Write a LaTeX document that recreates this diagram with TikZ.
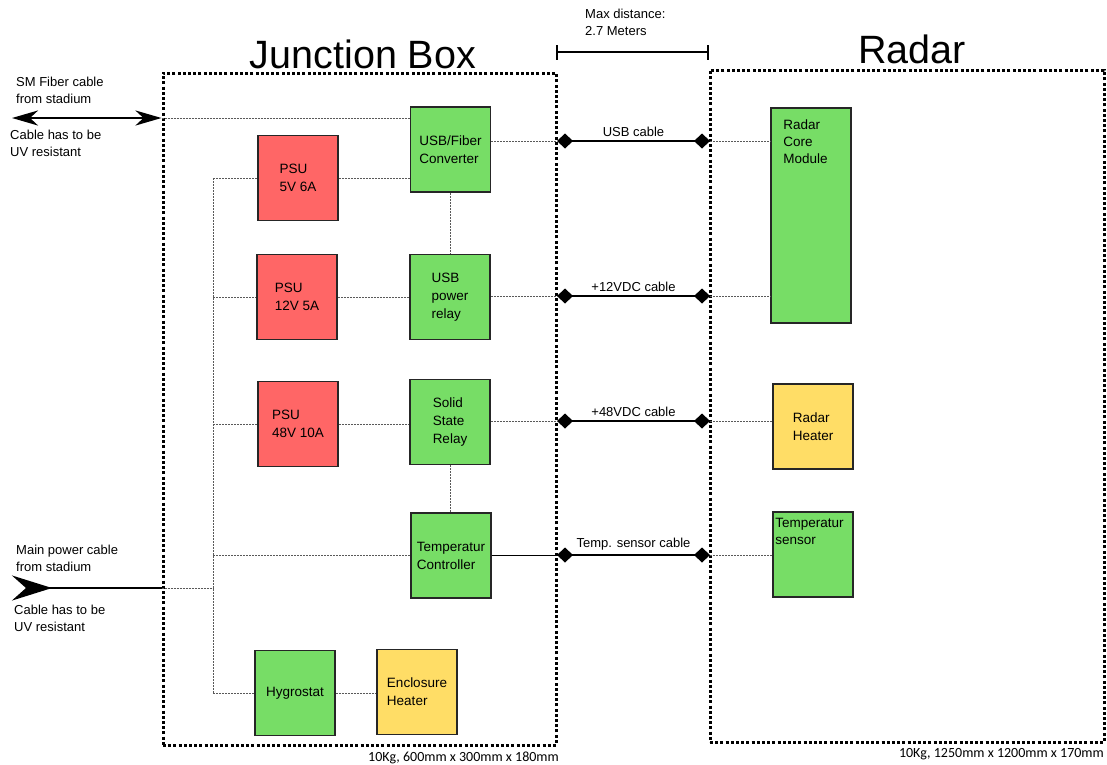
\documentclass[tikz,border=0pt]{standalone}
\usepackage{fontspec}
\setmainfont{Liberation Sans}
\newfontfamily\notefont{Carlito}
\usepackage{xcolor}
\usetikzlibrary{arrows.meta}
\definecolor{psured}{HTML}{FF6666}
\definecolor{ctlgreen}{HTML}{77DD66}
\definecolor{htryellow}{HTML}{FFDD66}
\begin{document}
\begin{tikzpicture}[x=1pt,y=-1pt]
        \tikzstyle{every node}+=[inner sep=0pt,font=\fontsize{13}{17}\selectfont]
        \tikzstyle{zone}=[draw,line width=3pt,dash pattern=on 3pt off 2.2pt]
        \tikzstyle{blk}=[draw=black!85,line width=1.8pt,minimum width=80pt,minimum height=85pt,align=left,font=\fontsize{13.5}{18}\selectfont]
        \tikzstyle{psu}=[blk,fill=psured]
        \tikzstyle{ctl}=[blk,fill=ctlgreen]
        \tikzstyle{htr}=[blk,fill=htryellow]
        \tikzstyle{wire}=[black!65,line width=0.9pt,dash pattern=on 2pt off 1pt]
        \tikzstyle{cable}=[line width=2.8pt,{Diamond[length=16pt,width=15pt]}-{Diamond[length=16pt,width=15pt]}]
        \tikzstyle{title}=[font=\fontsize{39.5}{40}\selectfont,anchor=base]
        \tikzstyle{note}=[align=left,anchor=north west]
        \useasboundingbox (0,0) rectangle (1107,764);
        % enclosures
        \node [zone,minimum width=393pt,minimum height=672pt] (jb) at (359.5,409) {};
        \node [zone,minimum width=394pt,minimum height=672pt] (rd) at (907,406) {};
        \node [title] (jbt) at (363,68) {Junction Box};
        \node [title] (rdt) at (912,63) {Radar};
        \node [anchor=base east,font=\notefont\fontsize{14}{15}\selectfont] (jbdim) at (559,761) {10Kg, 600mm x 300mm x 180mm};
        \node [anchor=base east,font=\notefont\fontsize{14}{15}\selectfont] (rddim) at (1104,757) {10Kg, 1250mm x 1200mm x 170mm};
        % max distance
        \coordinate (mdl) at (557,52);
        \coordinate (mdr) at (708,52);
        \draw [line width=1.2pt] (mdl) -- (mdr);
        \draw [line width=1.2pt] ([yshift=7pt]mdl) -- ([yshift=-8pt]mdl);
        \draw [line width=1.2pt] ([yshift=7pt]mdr) -- ([yshift=-8pt]mdr);
        \node [note] (mdt) at (585,9) {Max distance:\\2.7 Meters};
        % junction box
        \node [ctl] (fib) at (450.5,149.5) {USB/Fiber\\Converter};
        \node [psu] (psu5) at (298,178) {PSU\\5V 6A};
        \node [psu] (psu12) at (297,297) {PSU\\12V 5A};
        \node [ctl] (rel) at (450,297) {USB\\power\\relay};
        \node [psu] (psu48) at (298,424) {PSU\\48V 10A};
        \node [ctl] (ssr) at (450,422) {Solid\\State\\Relay};
        \node [ctl] (tctl) at (451,555.5) {Temperatur\\Controller};
        \node [ctl] (hyg) at (295,693) {Hygrostat};
        \node [htr] (ench) at (417,692) {Enclosure\\Heater};
        % radar
        \node [ctl,minimum height=215pt] (core) at (811,215.5) {};
        \node [note,font=\fontsize{13.5}{17}\selectfont] (coret) at ([xshift=13pt,yshift=-12pt]core.north west) {Radar\\Core\\Module};
        \node [htr] (rhtr) at (813,426.5) {Radar\\Heater};
        \node [ctl] (tsen) at (813,554.5) {};
        \node [note,font=\fontsize{13.5}{17}\selectfont] (tsent) at ([xshift=3pt,yshift=-7pt]tsen.north west) {Temperatur\\sensor};
        % incoming cables
        \coordinate (fibin) at (12,118);
        \coordinate (pwrin) at (12,588);
        \draw [line width=2.8pt,{Stealth[length=26pt,width=15pt,inset=8pt]}-{Stealth[length=26pt,width=15pt,inset=8pt]}] (fibin) -- (jb.west |- fibin);
        \draw [line width=2.8pt,{Stealth[reversed,length=40pt,width=25pt,inset=14pt]}-] (pwrin) -- (jb.west |- pwrin);
        \node [note] (fibt) at (16,77) {SM Fiber cable\\from stadium};
        \node [note] (fibuv) at (10,130) {Cable has to be\\UV resistant};
        \node [note] (pwrt) at (16,545) {Main power cable\\from stadium};
        \node [note] (pwruv) at (14,605) {Cable has to be\\UV resistant};
        % internal wiring
        \coordinate (bustop) at (213,178);
        \coordinate (busbot) at (213,693);
        \draw [wire] (jb.west |- fibin) -- (fib.west |- fibin);
        \draw [wire] (jb.west |- pwrin) -- (bustop |- pwrin);
        \draw [wire] (bustop) -- (busbot);
        \draw [wire] (bustop) -- (psu5.west);
        \draw [wire] (bustop |- psu12) -- (psu12.west);
        \draw [wire] (bustop |- psu48) -- (psu48.west);
        \draw [wire] (bustop |- tctl) -- (tctl.west);
        \draw [wire] (busbot) -- (hyg.west);
        \draw [wire] (psu5.east) -- (fib.west |- psu5);
        \draw [wire] (psu12.east) -- (rel.west |- psu12);
        \draw [wire] (psu48.east) -- (ssr.west |- psu48);
        \draw [wire] (hyg.east) -- (ench.west |- hyg);
        \draw [wire] (fib.south) -- (fib.south |- rel.north);
        \draw [wire] (ssr.south) -- (ssr.south |- tctl.north);
        % cables to radar
        \foreach \nm/\yy/\lbl in {usb/141/USB cable,vt/296/+12VDC cable,vf/421/+48VDC cable,tmp/555/Temp. sensor cable}{
          \coordinate (\nm L) at (557,\yy);
          \coordinate (\nm R) at (710,\yy);
          \draw [cable] (\nm L) -- (\nm R) node [midway,above=3pt] {\lbl};
        }
        \draw [wire] (fib.east |- usbL) -- (usbL);
        \draw [wire] (rel.east |- vtL) -- (vtL);
        \draw [wire] (ssr.east |- vfL) -- (vfL);
        \draw [line width=0.9pt] (tctl.east |- tmpL) -- (tmpL);
        \draw [wire] (usbR) -- (core.west |- usbR);
        \draw [wire] (vtR) -- (core.west |- vtR);
        \draw [wire] (vfR) -- (rhtr.west |- vfR);
        \draw [wire] (tmpR) -- (tsen.west |- tmpR);
\end{tikzpicture}
\end{document}
